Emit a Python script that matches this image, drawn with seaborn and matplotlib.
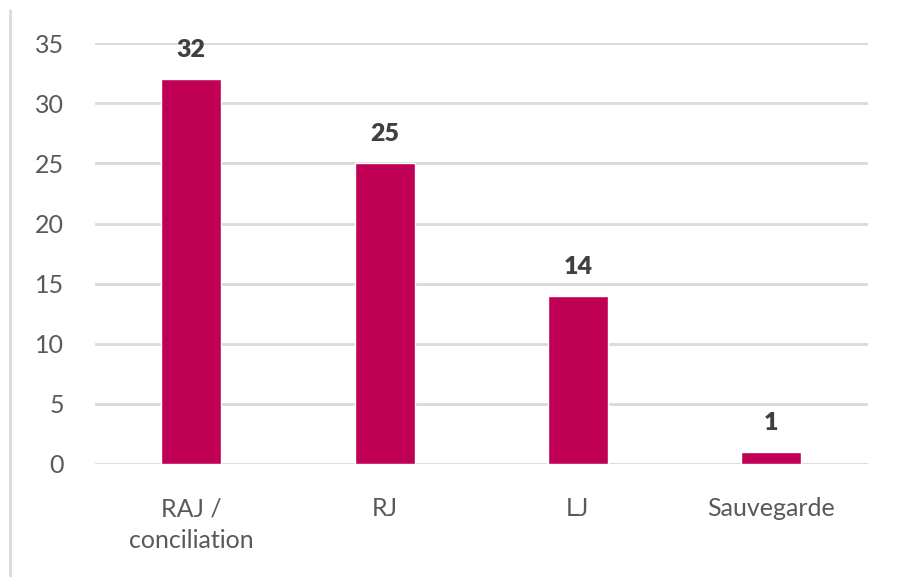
import pandas as pd
import numpy as np
import seaborn as sns
import matplotlib.pyplot as plt
from matplotlib.lines import Line2D

# data
categories = ["RAJ /\nconciliation", "RJ", "LJ", "Sauvegarde"]
values = [32, 25, 14, 1]
yticks = [0, 5, 10, 15, 20, 25, 30, 35]

df = pd.DataFrame({"cat": categories, "val": values})

sns.set_style("white")
plt.rcParams['font.family'] = ['Lato', 'DejaVu Sans']

fig = plt.figure(figsize=(9.02, 5.77), dpi=100)
ax = fig.add_axes([0.105, 0.196, 0.857, 0.729])

sns.barplot(data=df, x="cat", y="val", color="#C00054", width=0.31,
            saturation=1, ax=ax, zorder=3)

ax.set_ylim(0, 35)
ax.set_yticks(yticks)
ax.set_xlim(-0.5, 3.5)
ax.yaxis.grid(True, color="#D9D9D9", linewidth=2, zorder=0)
ax.set_axisbelow(True)
for s in ax.spines.values():
    s.set_visible(False)
ax.set_xlabel("")
ax.set_ylabel("")
ax.tick_params(axis="y", length=0, pad=22, labelsize=18, labelcolor="#595959")
ax.tick_params(axis="x", length=0, pad=24, labelsize=18, labelcolor="#595959")
for lab in ax.get_xticklabels():
    lab.set_linespacing(1.45)

# value labels above bars
for i, v in enumerate(values):
    ax.annotate(str(v), (i, v), xytext=(0, 13), textcoords="offset points",
                ha="center", va="bottom", fontsize=18, fontweight="heavy",
                color="#404040")

# thin border on the left of the picture
fig.add_artist(Line2D([10 / 902, 10 / 902], [0, 1 - 10 / 577],
                      transform=fig.transFigure, color="#D9D9D9", lw=2))

fig.savefig("out.png", dpi=100)
